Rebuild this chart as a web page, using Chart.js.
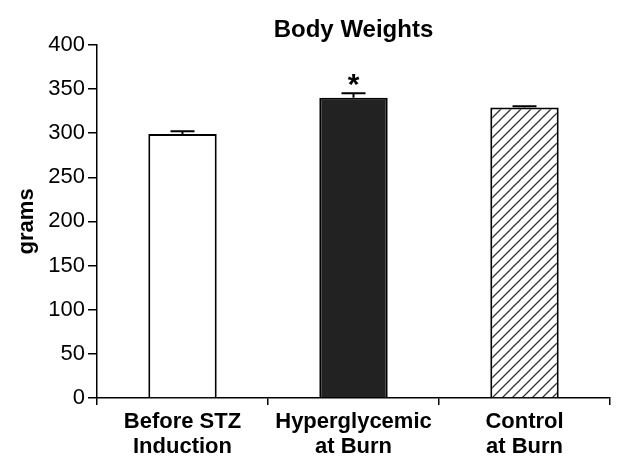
<!DOCTYPE html>
<html>
<head>
<meta charset="utf-8">
<script src="https://cdn.jsdelivr.net/npm/chart.js@4/dist/chart.umd.min.js"></script>
<style>
  html, body { margin: 0; padding: 0; background: #fff; }
  #wrap { width: 631px; height: 476px; }
</style>
</head>
<body>
<div id="wrap"><canvas id="weights-chart" width="631" height="476"></canvas></div>
<script>
// data
const groups = [['Before STZ', 'Induction'], ['Hyperglycemic', 'at Burn'], ['Control', 'at Burn']];
const weights = [299, 340, 329];
const weightErrors = [3, 5, 1.5];
const significance = ['', '*', ''];
const yTicks = [0, 50, 100, 150, 200, 250, 300, 350, 400];

const FONT = "'Liberation Sans', Arial, Helvetica, sans-serif";

// diagonal hatch for the control bar
function makeHatch() {
  const c = document.createElement('canvas');
  c.width = 10;
  c.height = 10;
  const g = c.getContext('2d');
  g.fillStyle = '#fff';
  g.fillRect(0, 0, 10, 10);
  g.strokeStyle = '#333';
  g.lineWidth = 1.3;
  g.beginPath();
  g.moveTo(0, 10); g.lineTo(10, 0);
  g.moveTo(-5, 5); g.lineTo(5, -5);
  g.moveTo(5, 15); g.lineTo(15, 5);
  g.stroke();
  return g.createPattern(c, 'repeat');
}

// error bars + significance stars
const errorBars = {
  id: 'errorBars',
  afterDatasetsDraw(chart) {
    const ctx = chart.ctx;
    const yScale = chart.scales.y;
    const meta = chart.getDatasetMeta(0);
    ctx.save();
    ctx.strokeStyle = '#000';
    ctx.lineWidth = 2;
    meta.data.forEach((bar, i) => {
      const top = yScale.getPixelForValue(weights[i] + weightErrors[i]);
      const base = yScale.getPixelForValue(weights[i]);
      ctx.beginPath();
      ctx.moveTo(bar.x, base);
      ctx.lineTo(bar.x, top);
      ctx.moveTo(bar.x - 12, top);
      ctx.lineTo(bar.x + 12, top);
      ctx.stroke();
      if (significance[i]) {
        ctx.fillStyle = '#000';
        ctx.font = 'bold 30px ' + FONT;
        ctx.textAlign = 'center';
        ctx.textBaseline = 'alphabetic';
        ctx.fillText(significance[i], bar.x, top + 1);
      }
    });
    ctx.restore();
  }
};

const ctx = document.getElementById('weights-chart');
new Chart(ctx, {
  type: 'bar',
  data: {
    labels: groups,
    datasets: [{
      data: weights,
      backgroundColor: ['#ffffff', '#222222', makeHatch()],
      borderColor: '#000',
      borderWidth: 2,
      borderSkipped: 'bottom',
      categoryPercentage: 1,
      barPercentage: 0.4
    }]
  },
  options: {
    responsive: false,
    animation: false,
    layout: { padding: { top: 0, right: 21, bottom: 0, left: 0 } },
    plugins: {
      legend: { display: false },
      tooltip: { enabled: false },
      title: {
        display: true,
        fullSize: false,
        text: 'Body Weights',
        color: '#000',
        font: { family: FONT, size: 24, weight: 'bold', lineHeight: 1.2 },
        padding: { top: 16, bottom: 0 }
      }
    },
    scales: {
      x: {
        grid: { offset: true, drawOnChartArea: false, tickLength: 7, color: '#000', lineWidth: 1.5 },
        border: { color: '#000', width: 1.5 },
        ticks: {
          color: '#000',
          padding: 4,
          maxRotation: 0,
          font: { family: FONT, size: 22, weight: 'bold', lineHeight: 1.15 }
        },
        afterFit(scale) { scale.height = 78; }
      },
      y: {
        min: 0,
        max: 400,
        afterBuildTicks(scale) { scale.ticks = yTicks.map(v => ({ value: v })); },
        grid: { drawOnChartArea: false, tickLength: 9, color: '#000', lineWidth: 1.5 },
        border: { color: '#000', width: 1.5 },
        ticks: {
          color: '#000',
          padding: 3,
          font: { family: FONT, size: 22 }
        },
        title: {
          display: true,
          text: 'grams',
          color: '#000',
          font: { family: FONT, size: 22, weight: 'bold' },
          padding: { top: 14, bottom: 0 }
        },
        afterFit(scale) { scale.width = 97; }
      }
    }
  },
  plugins: [errorBars]
});
</script>
</body>
</html>
